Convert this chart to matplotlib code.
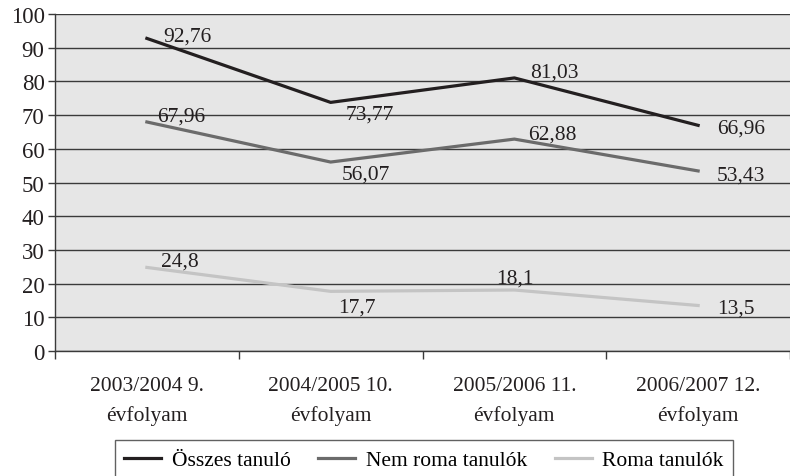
import matplotlib
matplotlib.use("Agg")
import matplotlib.pyplot as plt
import numpy as np

categories = ["2003/2004 9.\névfolyam", "2004/2005 10.\névfolyam",
              "2005/2006 11.\névfolyam", "2006/2007 12.\névfolyam"]
series_names = ["Összes tanuló", "Nem roma tanulók", "Roma tanulók"]
osszes = [92.76, 73.77, 81.03, 66.96]
nem_roma = [67.96, 56.07, 62.88, 53.43]
roma = [24.8, 17.7, 18.1, 13.5]
label_osszes = ["92,76", "73,77", "81,03", "66,96"]
label_nem_roma = ["67,96", "56,07", "62,88", "53,43"]
label_roma = ["24,8", "17,7", "18,1", "13,5"]

colors = ["#231f20", "#6b6b6b", "#c4c4c4"]
# label offsets in pixels (left edge, vertical centre) from each point
offsets = [
    [(16, 5), (15, -9), (16, 8), (19, 0)],
    [(10, 8), (11, -10), (14, 8), (19, -2)],
    [(14, 9), (8, -13), (-18, 14), (19, 0)],
]

plt.rcParams['font.family'] = ['Liberation Serif', 'DejaVu Serif']
plt.rcParams['font.size'] = 15.5

fig = plt.figure(figsize=(7.9, 4.77), dpi=100)
ax = fig.add_axes([55/790, 1-352/477, 1-55/790, (352-15)/477])
ax.set_facecolor("#e6e6e6")

x = np.arange(len(categories)) + 0.5
data = [osszes, nem_roma, roma]
labels = [label_osszes, label_nem_roma, label_roma]
for vals, labs, name, c, offs in zip(data, labels, series_names, colors, offsets):
    ax.plot(x, vals, color=c, lw=2.3, label=name, zorder=3)
    for xi, v, lab, off in zip(x, vals, labs, offs):
        ax.annotate(lab, (xi, v), xytext=off, textcoords="offset pixels",
                    ha="left", va="center_baseline",
                    fontsize=15.5, color="#231f20", zorder=4)

ax.set_xlim(0, len(categories))
ax.set_ylim(0, 100)
ax.set_yticks(np.arange(0, 101, 10))
ax.yaxis.grid(True, color="#3a3a3a", lw=1.0)
ax.set_axisbelow(True)
ax.set_xticks(x)
ax.set_xticklabels(categories, linespacing=1.65)
ax.set_xticks(np.arange(0, len(categories) + 1), minor=True)
ax.tick_params(axis="x", which="major", length=0, pad=18, labelsize=15.5, colors="#231f20")
ax.tick_params(axis="x", which="minor", length=6, width=1, color="#3a3a3a")
ax.tick_params(axis="y", length=5, width=1, color="#3a3a3a", pad=2.5, labelsize=16.5, labelcolor="#231f20")
for s in ["top", "right"]:
    ax.spines[s].set_visible(False)
for s in ["left", "bottom"]:
    ax.spines[s].set_color("#3a3a3a")
    ax.spines[s].set_linewidth(1.0)

leg = fig.legend(loc="lower center", bbox_to_anchor=((118+730)/2/790, -0.008),
                 ncol=3, frameon=True, fancybox=False, edgecolor="#3a3a3a",
                 handlelength=1.7, handletextpad=0.5, columnspacing=1.3,
                 borderpad=0.45, borderaxespad=0.0, fontsize=15.5)
leg.get_frame().set_linewidth(1.0)

fig.savefig("out.png", dpi=100)
